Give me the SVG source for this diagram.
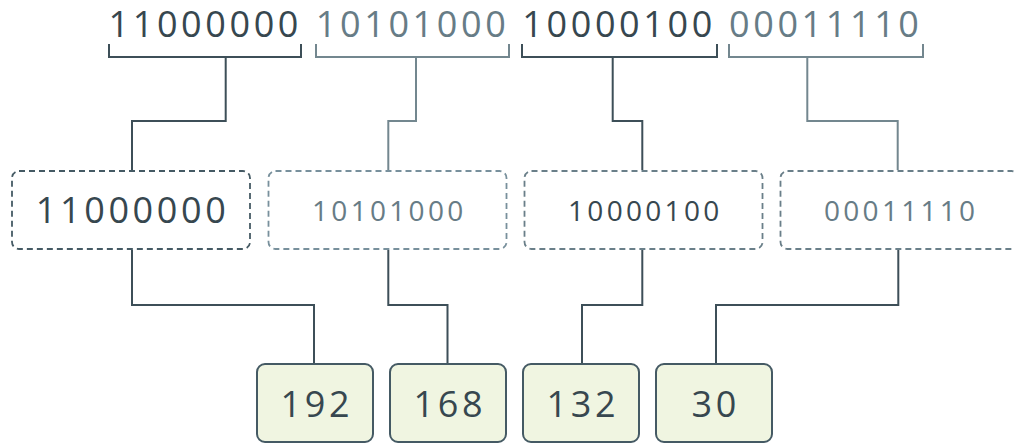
<svg xmlns="http://www.w3.org/2000/svg" width="1014" height="444" viewBox="0 0 1014 444">
<style>
.t{font-family:"Open Sans","Noto Sans","Liberation Sans",sans-serif;text-anchor:middle}
.big{font-size:36px;letter-spacing:3.6px}
.mid{font-size:28px;letter-spacing:3.3px}
.dk{fill:#37474f}
.lt{fill:#677c86}
.ln{fill:none;stroke-width:2}
.ld{stroke:#3d4f58}
.ll{stroke:#73878f}
.db{fill:#fff;stroke-width:1.8;stroke-dasharray:6 4}
.nb{fill:#f0f5e1;stroke:#455a64;stroke-width:2}
</style>
<g id="bits">
<text class="t big dk" x="205.3" y="37">11000000</text>
<text class="t big lt" x="412.6" y="37">10101000</text>
<text class="t big dk" x="619.1" y="37">10000100</text>
<text class="t big lt" x="825.8" y="37">00011110</text>
</g>
<g id="connectors">
<path class="ln ld" d="M109,44V57H301V44"/>
<path class="ln ll" d="M316,44V57H509V44"/>
<path class="ln ld" d="M522,44V57H717V44"/>
<path class="ln ll" d="M729,44V57H923V44"/>
<path class="ln ld" d="M225.7,57V121H132V170"/>
<path class="ln ll" d="M416,57V121H388.3V170"/>
<path class="ln ld" d="M612.7,57V121H642.3V170"/>
<path class="ln ll" d="M807.3,57V121H897.7V170"/>
<path class="ln ld" d="M132,250V305H314V364"/>
<path class="ln ld" d="M388.3,250V305H447.5V364"/>
<path class="ln ld" d="M642.3,250V305H582V364"/>
<path class="ln ld" d="M898.3,250V305H716V364"/>
</g>
<g id="octet1"><rect class="db" x="12" y="171" width="238" height="78" rx="7" stroke="#455a64"/><text class="t big dk" x="132.6" y="222.7">11000000</text></g>
<g id="octet2"><rect class="db" x="268.5" y="171" width="238" height="78" rx="7" stroke="#78909c"/><text class="t mid lt" x="389.3" y="221">10101000</text></g>
<g id="octet3"><rect class="db" x="524.5" y="171" width="238" height="78" rx="7" stroke="#6a7f89"/><text class="t mid dk" x="645.3" y="221">10000100</text></g>
<g id="octet4"><rect class="db" x="780.5" y="171" width="238" height="78" rx="7" stroke="#6a7f89"/><text class="t mid lt" x="901.2" y="221">00011110</text></g>
<g id="dec192"><rect class="nb" x="257" y="364" width="116" height="78" rx="8"/><text class="t big dk" x="316.8" y="416.7">192</text></g>
<g id="dec168"><rect class="nb" x="390" y="364" width="116" height="78" rx="8"/><text class="t big dk" x="449.8" y="416.7">168</text></g>
<g id="dec132"><rect class="nb" x="523" y="364" width="116" height="78" rx="8"/><text class="t big dk" x="582.8" y="416.7">132</text></g>
<g id="dec30"><rect class="nb" x="656" y="364" width="116" height="78" rx="8"/><text class="t big dk" x="715.8" y="416.7">30</text></g>
</svg>
